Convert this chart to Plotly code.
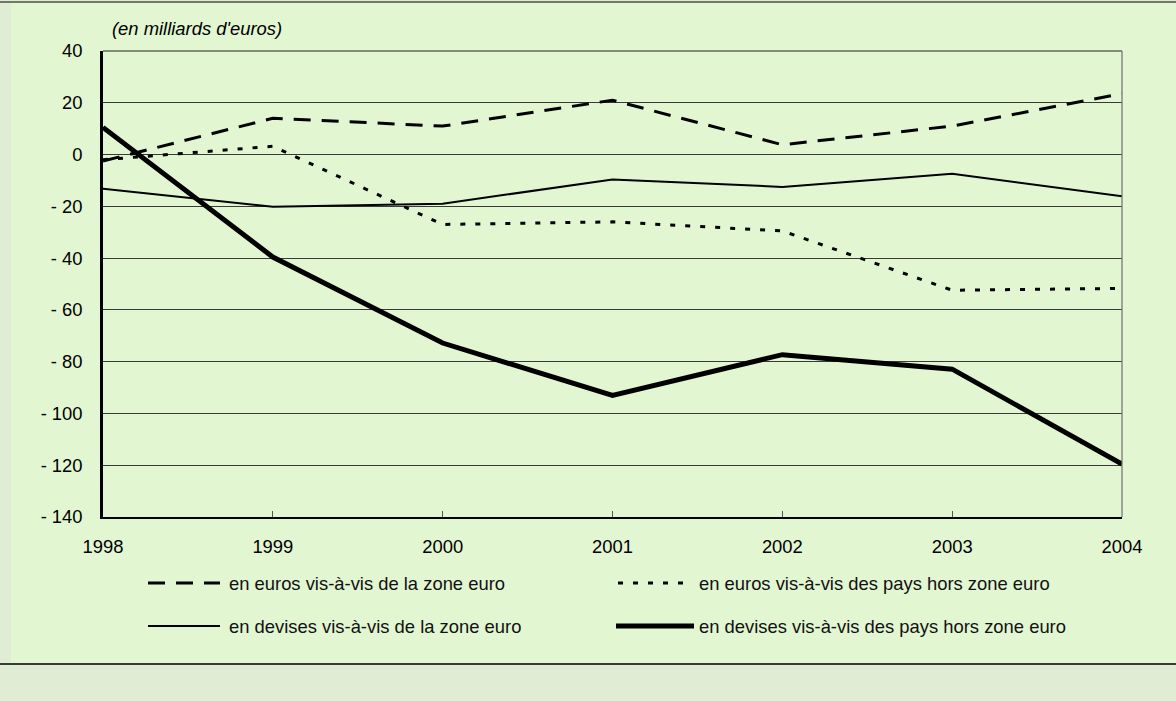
import plotly.graph_objects as go

years = [1998, 1999, 2000, 2001, 2002, 2003, 2004]
euros_zone = [-2.5, 14, 11, 21, 3.8, 11, 23.5]
euros_hors = [-2, 3.2, -27, -26, -29.5, -52.4, -51.7]
devises_zone = [-13.2, -20.2, -19, -9.6, -12.5, -7.4, -16.1]
devises_hors = [10.5, -39.6, -72.8, -93, -77.3, -82.9, -119.6]

names = [
    "en euros vis-à-vis de la zone euro",
    "en euros vis-à-vis des pays hors zone euro",
    "en devises vis-à-vis de la zone euro",
    "en devises vis-à-vis des pays hors zone euro",
]
y_tickvals = [40, 20, 0, -20, -40, -60, -80, -100, -120, -140]
y_ticktext = ["40", "20", "0", "- 20", "- 40", "- 60", "- 80", "- 100", "- 120", "- 140"]
unit_label = "(en milliards d'euros)"

W, H = 1176, 701
L, R, T, B = 103, 1122, 51, 517
GREEN = "#E2F6D2"
GRAY = "#E1ECD5"
FONT = "Liberation Sans, Arial, sans-serif"
FS = 18.4

def px(x):
    return (x - L) / (R - L)

def py(y):
    return (B - y) / (B - T)

styles = [
    dict(color="black", width=3, dash="17px,11px"),
    dict(color="black", width=3, dash="5px,10px"),
    dict(color="black", width=2, dash="solid"),
    dict(color="black", width=5, dash="solid"),
]
series = [euros_zone, euros_hors, devises_zone, devises_hors]

fig = go.Figure()
for nm, vals, st in zip(names, series, styles):
    fig.add_trace(go.Scatter(x=years, y=vals, mode="lines", name=nm,
                             line=st, showlegend=False, cliponaxis=False))

shapes = []
# green panel
shapes.append(dict(type="rect", xref="paper", yref="paper", x0=px(11), x1=px(W + 5),
                   y0=py(664), y1=py(2), fillcolor=GREEN, line=dict(width=0), layer="below"))
# borders
shapes.append(dict(type="line", xref="paper", yref="paper", x0=px(0), x1=px(W),
                   y0=py(2), y1=py(2), line=dict(color="black", width=1.2)))
shapes.append(dict(type="line", xref="paper", yref="paper", x0=px(0), x1=px(W),
                   y0=py(664), y1=py(664), line=dict(color="black", width=1.5)))
# top gridline and right frame line
shapes.append(dict(type="line", xref="paper", yref="paper", x0=0, x1=1, y0=1, y1=1,
                   line=dict(color="#222", width=1.2), layer="below"))
shapes.append(dict(type="line", xref="paper", yref="paper", x0=1, x1=1, y0=0, y1=1,
                   line=dict(color="#707070", width=1.2)))

annotations = [dict(text=unit_label, xref="paper", yref="paper", x=px(110), y=py(28),
                    xanchor="left", yanchor="middle", showarrow=False,
                    font=dict(family=FONT, size=FS, color="black", style="italic"))]

# custom legend
leg = [
    (148, 220, 583, 227),
    (618, 686, 583, 697),
    (148, 220, 626, 227),
    (616, 694, 626, 697),
]
for (x0, x1, yy, tx), nm, st in zip(leg, names, styles):
    shapes.append(dict(type="line", xref="paper", yref="paper", x0=px(x0), x1=px(x1),
                       y0=py(yy), y1=py(yy), line=st))
    annotations.append(dict(text=nm, xref="paper", yref="paper", x=px(tx), y=py(yy),
                            xanchor="left", yanchor="middle", showarrow=False,
                            font=dict(family=FONT, size=FS, color="#111")))

fig.update_layout(
    width=W, height=H,
    margin=dict(l=L, r=W - R, t=T, b=H - B, pad=0),
    paper_bgcolor=GRAY, plot_bgcolor=GREEN,
    font=dict(family=FONT, size=FS, color="black"),
    shapes=shapes, annotations=annotations,
    showlegend=False,
)
fig.update_xaxes(range=[1998, 2004], tickvals=years, ticktext=[str(y) for y in years],
                 showgrid=False, zeroline=False, showline=True, linecolor="black",
                 linewidth=2, ticks="inside", ticklen=6, tickcolor="#555", tickwidth=1,
                 ticklabelstandoff=12, tickfont=dict(size=FS))
fig.update_yaxes(range=[-140, 40], tickvals=y_tickvals, ticktext=y_ticktext,
                 showgrid=True, gridcolor="#3a3a3a", gridwidth=1,
                 zeroline=True, zerolinecolor="#3a3a3a", zerolinewidth=1,
                 showline=True, linecolor="black", linewidth=2.5, ticks="",
                 ticklabelstandoff=14, tickfont=dict(size=FS))

fig.write_html("out.html", config={"displayModeBar": False},
               post_script="document.body.style.margin='0';document.body.style.overflow='hidden';")
